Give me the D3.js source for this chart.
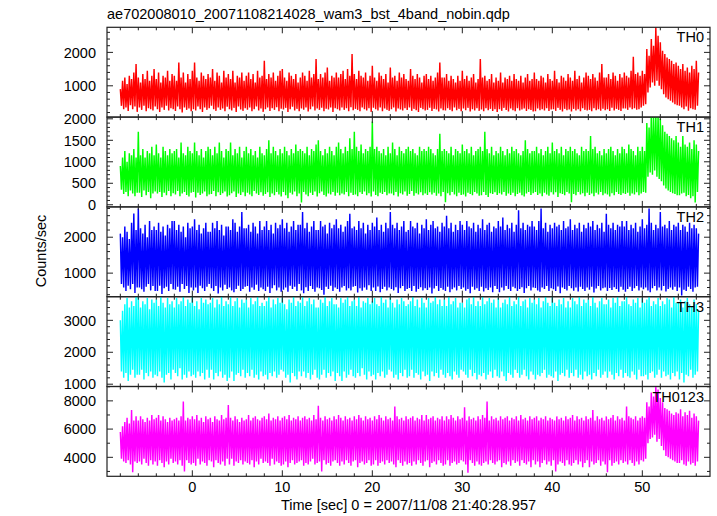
<!DOCTYPE html>
<html><head><meta charset="utf-8">
<script src="https://cdn.jsdelivr.net/npm/d3@7/dist/d3.min.js"></script>
<style>body{margin:0;background:#fff} svg{display:block} text{font-family:"Liberation Sans",Arial,Helvetica,sans-serif;fill:#000}</style>
</head><body><svg id="c" width="717" height="516"></svg>
<script>
const title = "ae702008010_20071108214028_wam3_bst_4band_nobin.qdp";
const xLabel = "Time [sec] 0 = 2007/11/08 21:40:28.957";
const yLabel = "Counts/sec";
const bands = ["TH0","TH1","TH2","TH3","TH0123"];
const colors = ["#ff0000","#00ff00","#0000ff","#00ffff","#ff00ff"];
const t0 = -8, dt = 0.125;

const th0 = [
900,400,1150,300,1250,350,1050,250,1300,420,1200,300,1400,380,1650,220,
1250,350,1100,280,1350,400,1200,240,1450,330,1150,300,1300,260,1500,380,
1200,300,1400,220,1100,350,1300,280,1250,400,1450,260,1150,330,1350,300,
1300,250,1150,380,1700,300,1250,200,1400,350,1100,280,1350,320,1200,240,
1450,300,1700,260,1250,380,1150,300,1400,220,1300,350,1200,280,1350,330,
1250,400,1500,300,1150,250,1400,350,1300,280,1100,320,1450,240,1250,370,
1350,300,1200,260,1450,340,1100,220,1300,380,1250,290,1400,250,1150,330,
1300,280,1400,350,1200,240,1350,300,1100,380,1450,260,1250,320,1300,220,
1750,300,1200,350,1350,250,1250,330,1400,280,1150,360,1300,240,1450,310,
1500,290,1250,340,1150,220,1400,300,1300,370,1200,260,1350,310,1100,240,
1250,320,1400,280,1300,350,1150,230,1450,300,1250,380,1350,260,1800,320,
1200,280,1350,340,1250,240,1400,310,1550,290,1150,350,1300,220,1250,330,
1400,300,1250,260,1350,350,1450,280,1200,330,1500,240,1300,360,1950,270,
1350,310,1200,280,1450,240,1300,350,1250,300,1400,260,1150,330,1300,220,
1600,340,1250,300,1150,260,1400,350,1300,240,1200,320,1350,280,1100,250,
1550,300,1250,350,1300,230,1150,320,1400,290,1250,260,1350,330,1200,280,
1150,350,1500,250,1300,310,1200,270,1350,220,1250,340,1100,300,1300,260,
1350,280,1200,340,1300,250,1150,310,1250,290,1400,230,1700,320,1250,270,
1250,260,1350,330,1150,280,1300,240,1200,350,1100,270,1300,310,1150,240,
1450,320,1200,270,1300,340,1150,230,1250,300,1350,260,1100,330,1200,250,
1800,290,1250,240,1300,330,1150,270,1200,310,1350,250,1100,300,1250,220,
1150,300,1400,250,1100,340,1250,280,1200,230,1300,320,1150,270,1350,240,
1200,330,1150,260,1300,290,1100,320,1250,250,1350,300,1150,280,1200,230,
1400,240,1200,320,1150,270,1300,300,1250,260,1100,330,1350,250,1200,290,
1150,300,1450,250,1200,340,1100,280,1300,230,1250,310,1150,270,1350,290,
1250,230,1150,310,1450,260,1200,300,1300,240,1100,330,1250,280,1400,260,
1300,280,1200,240,1350,330,1250,270,1150,300,1400,250,1650,310,1250,270,
1250,300,1350,250,1200,340,1400,260,1300,310,1150,280,1350,250,1250,320,
1400,320,1300,280,1250,350,1450,300,1870,330,1350,280,1400,300,1300,350,
1450,400,1350,450,2100,800,1900,950,2400,1100,2200,1000,2750,1150,2500,1000,
2300,900,2050,750,1950,650,1850,600,1800,550,1750,500,1650,450,1700,420,
1600,400,1500,350,1650,300,1450,380,1550,250,1400,330,1600,300,1500,280,
1750,400,1400];

const th1 = [
900,350,1100,250,1250,300,1000,200,1200,330,1150,260,1300,200,1100,280,
1700,280,1150,180,1300,330,1100,220,1250,300,1200,150,1350,260,1150,310,
1400,260,1200,300,1100,180,1350,280,1250,220,1150,320,1300,200,1200,270,
1250,240,1300,320,1100,200,1450,260,1200,300,1150,230,1350,190,1250,280,
1200,300,1450,170,1250,280,1150,230,1300,260,1100,310,1250,200,1350,240,
1300,250,1150,320,1350,200,1200,290,1450,230,1250,270,1100,310,1300,190,
1250,220,1450,270,1150,310,1300,180,1200,260,1350,230,1100,290,1250,200,
1350,280,1200,240,1300,200,1150,320,1250,260,1100,230,1350,290,1200,210,
1150,250,1300,290,1500,180,1200,260,1350,220,1250,300,1150,240,1300,190,
1200,300,1350,220,1250,150,1150,280,1300,240,1200,310,1400,200,1250,260,
1300,50,1250,300,1200,240,1350,200,1150,280,1300,230,1250,310,1400,190,
1500,270,1250,310,1150,230,1300,190,1200,260,1350,240,1250,300,1150,210,
1350,280,1450,220,1300,260,1200,240,1350,300,1250,200,1550,280,1300,230,
1700,240,1350,200,1250,290,1400,250,1200,310,1300,220,1250,270,1350,190,
1935,310,1300,230,1350,200,1250,280,1200,250,1300,300,1150,220,1350,260,
1200,260,1450,220,1300,300,1150,190,1350,270,1250,240,1200,310,1300,210,
1350,250,1250,320,1300,210,1200,270,1150,240,1350,290,1250,220,1300,260,
1250,230,1350,290,1300,240,1200,280,1150,210,1300,260,1650,200,1250,300,
1300,60,1250,270,1200,220,1350,300,1150,240,1300,200,1250,280,1200,230,
1400,240,1250,190,1300,280,1200,250,1350,220,1150,300,1250,260,1300,210,
1350,220,1250,300,1700,230,1300,180,1200,270,1350,250,1150,290,1250,230,
1200,270,1350,240,1250,300,1150,210,1300,260,1200,230,1350,280,1250,200,
1300,250,1200,280,1150,220,1250,190,1500,260,1300,300,1200,230,1250,270,
1250,300,1350,230,1200,260,1300,200,1150,280,1250,240,1350,210,1200,290,
1450,240,1250,290,1300,180,1200,270,1350,250,1150,220,1300,300,1250,260,
1350,60,1250,250,1300,220,1200,300,1150,240,1350,270,1250,200,1300,280,
1250,230,1600,260,1300,200,1350,280,1200,240,1250,300,1150,220,1300,260,
1200,240,1300,190,1350,270,1250,220,1150,300,1300,250,1200,230,1350,270,
1300,250,1200,280,1400,210,1300,260,1250,240,1150,290,1350,220,1250,260,
1350,300,1250,280,1900,650,1800,750,2100,700,2050,800,2100,650,2100,600,
2000,550,1850,450,1700,380,1650,330,1600,300,1550,270,1500,250,1600,220,
1450,220,1350,260,1600,280,1400,200,1350,230,1450,150,1300,200,1500,50,
1400,300,1250];

const th2 = [
2100,700,2000,600,2300,500,2150,650,1950,550,2400,700,2660,450,2200,600,
2800,600,2250,550,2100,480,2350,620,2000,700,2450,520,2200,640,2300,500,
2200,500,2400,650,2150,420,2300,580,2050,620,2350,500,2250,700,2450,550,
2450,540,2200,620,2350,480,2150,700,2300,560,2000,640,2400,450,2250,600,
2300,520,2500,600,2200,450,2350,650,2100,580,2250,500,2400,620,2150,700,
2150,580,2400,500,2250,640,2450,430,2200,600,2350,520,2050,680,2300,560,
2300,600,2200,520,2500,470,2400,560,2150,650,2300,500,2700,560,2250,620,
2250,640,2350,480,2150,600,2400,540,2300,680,2100,500,2450,600,2200,550,
2300,500,2450,620,2200,450,2350,580,2100,660,2400,520,2250,600,2350,480,
2500,540,2250,600,2400,480,2150,650,2300,560,2450,620,2200,500,2350,700,
2350,520,2700,440,2250,610,2400,500,2150,640,2300,560,2450,480,2200,600,
2200,580,2450,530,2300,400,2350,620,2100,560,2400,650,2250,500,2350,600,
2500,560,2250,480,2350,600,2150,640,2300,520,2450,580,2650,520,2250,620,
2300,640,2200,460,2450,580,2250,510,2400,600,2100,540,2350,660,2200,500,
2400,600,2300,500,2550,630,2200,470,2350,560,2150,620,2400,520,2250,600,
2700,560,2350,520,2250,610,2400,450,2200,580,2300,640,2450,500,2150,560,
2200,590,2450,500,2300,640,2250,480,2400,560,2100,610,2350,520,2250,580,
2500,530,2200,600,2350,430,2450,570,2250,640,2300,500,2150,590,2400,540,
2300,500,2600,620,2250,470,2400,550,2150,600,2350,520,2200,640,2450,560,
2350,600,2200,510,2450,560,2300,440,2250,620,2400,540,2150,580,2350,500,
2250,620,2500,490,2200,580,2350,530,2400,600,2150,470,2300,640,2250,560,
2450,470,2300,600,2550,520,2200,640,2350,560,2250,500,2400,620,2150,580,
2350,500,2750,560,2250,610,2400,450,2200,580,2350,640,2300,520,2450,600,
2300,590,2200,520,2450,480,2800,600,2250,560,2400,640,2150,500,2350,580,
2250,550,2400,500,2300,630,2350,440,2200,600,2450,560,2250,520,2300,640,
2500,580,2200,510,2350,600,2250,490,2400,620,2150,560,2350,500,2250,600,
2400,540,2300,620,2450,460,2200,570,2350,640,2250,520,2400,580,2150,600,
2650,500,2350,590,2250,530,2400,610,2200,560,2350,480,2300,620,2450,540,
2300,480,2450,560,2200,620,2350,500,2250,580,2400,640,2150,520,2300,600,
2500,550,2250,600,2350,520,2800,470,2400,580,2200,640,2350,520,2250,600,
2700,520,2300,640,2350,490,2250,560,2450,600,2200,540,2350,620,2300,500,
2400,600,2200,380,2350,540,2300,500,2150,620,2400,560,2250,480,2350,600,
2250,620,2100];

const th3 = [
3000,1400,3300,1200,3500,1350,3700,1100,3400,1300,3600,1450,3450,1200,3750,1300,
3750,1300,3400,1450,3600,1150,3500,1350,3700,1250,3350,1400,3650,1200,3550,1300,
3650,1250,3450,1400,3750,1200,3550,1050,3400,1300,3700,1350,3500,1150,3600,1450,
3400,1350,3700,1250,3500,1500,3600,1150,3750,1300,3450,1200,3650,1400,3550,1250,
3750,1300,3450,1200,3600,1400,3350,1250,3700,1350,3550,1150,3650,1450,3500,1200,
3550,1450,3700,1150,3400,1350,3650,1250,3500,1400,3750,1200,3450,1300,3600,1100,
3500,1200,3750,1400,3450,1100,3600,1300,3700,1350,3400,1250,3650,1450,3550,1200,
3650,1350,3400,1250,3700,1450,3500,1200,3600,1300,3750,1150,3450,1400,3550,1250,
3450,1300,3600,1150,3750,1350,3400,1250,3650,1400,3500,1200,3700,1300,3550,1450,
3700,1400,3500,1200,3350,1300,3650,1050,3550,1350,3750,1250,3450,1150,3600,1400,
3550,1250,3750,1400,3450,1200,3600,1350,3700,1150,3500,1300,3650,1450,3400,1200,
3400,1150,3650,1300,3550,1450,3750,1200,3450,1350,3600,1250,3700,1400,3500,1100,
3500,1350,3400,1250,3700,1100,3550,1400,3650,1200,3750,1300,3450,1450,3600,1250,
3650,1200,3450,1350,3750,1250,3400,1500,3600,1300,3550,1150,3700,1400,3500,1250,
3600,1300,3700,1150,3500,1350,3450,1250,3750,1400,3550,1200,3650,1300,3400,1450,
3750,1400,3550,1200,3400,1300,3650,1150,3500,1350,3700,1250,3600,1450,3450,1200,
3500,1250,3600,1450,3750,1200,3450,1350,3650,1300,3400,1150,3700,1400,3550,1250,
3400,1300,3700,1100,3550,1400,3600,1250,3750,1350,3500,1200,3650,1450,3450,1300,
3650,1200,3450,1350,3750,1250,3500,1150,3600,1400,3700,1300,3400,1200,3550,1450,
3550,1400,3400,1300,3650,1200,3700,1450,3500,1250,3750,1350,3450,1150,3600,1300,
3450,1250,3750,1350,3500,1150,3600,1300,3700,1400,3550,1200,3650,1450,3400,1250,
3700,1200,3400,1400,3550,1250,3650,1100,3500,1350,3750,1300,3450,1200,3600,1450,
3500,1350,3750,1200,3450,1300,3600,1450,3650,1250,3400,1150,3700,1400,3550,1300,
3650,1150,3500,1300,3700,1250,3400,1350,3600,1450,3750,1200,3550,1300,3450,1250,
3750,1200,3550,1400,3450,1100,3650,1300,3500,1350,3700,1250,3400,1450,3600,1200,
3400,1350,3700,1250,3600,1450,3500,1200,3750,1300,3450,1150,3650,1400,3550,1250,
3650,1300,3450,1150,3750,1350,3550,1250,3400,1450,3600,1200,3700,1300,3500,1400,
3500,1200,3650,1400,3400,1300,3700,1150,3550,1350,3750,1250,3450,1450,3600,1200,
3600,1350,3750,1250,3500,1200,3450,1400,3650,1300,3550,1150,3700,1450,3400,1250,
3700,1250,3550,1300,3650,1150,3750,1350,3450,1400,3600,1200,3500,1300,3700,1450,
3450,1200,3600,1400,3500,1250,3700,1300,3650,1150,3400,1350,3750,1250,3550,1400,
3550,1150,3650,1350,3400,1050,3600,1300,3700,1250,3500,1450,3450,1200,3650,1300,
3500,1400,3300];

const th0123 = [
5800,3900,6200,3700,6500,3600,6800,3800,6400,3500,7350,2950,6600,3700,6900,3600,
6600,3700,6900,3500,6700,3900,6500,3600,6800,3400,6600,3800,7000,3500,6700,3700,
6800,3400,7000,3800,6600,3600,6900,3300,6700,3700,6500,3500,6800,3900,6600,3600,
6700,3700,6800,3500,6600,3800,6900,3400,7950,3000,6600,3800,6800,3600,6700,3500,
6900,3600,6700,3400,7000,3900,6600,3500,6800,3700,6500,3600,6900,3400,6700,3800,
6800,3700,6500,3300,6900,3800,6700,3600,6600,3500,7000,3700,6700,3400,6800,3900,
7700,3500,6800,3900,6600,3400,6900,3700,6700,3600,6500,3800,6800,3500,6600,3700,
6700,3600,7000,3500,6600,3800,6800,3300,6900,3700,6700,3500,6600,3900,6800,3600,
6900,3700,6700,3600,7100,3400,6600,3900,6800,3500,6700,3700,6900,3600,6600,3400,
6800,3500,6900,3700,6700,3300,7000,3600,6600,3800,6800,3500,6700,3600,6900,3700,
6600,3800,6800,3400,6900,3600,6700,3500,6800,3700,6600,3900,7000,3500,6700,3600,
7650,3700,6800,3000,6600,3800,6900,3500,6700,3600,6800,3400,6600,3700,6900,3800,
6700,3600,7000,3400,6800,3700,6600,3500,6900,3800,6700,3600,6800,3400,6600,3700,
6900,3800,6700,3300,7000,3600,6800,3700,6600,3500,6900,3600,6700,3800,6800,3400,
6600,3500,6900,3800,6700,3400,7000,3600,6800,3700,6600,3500,6900,3800,6700,3600,
6800,3700,6600,3500,7600,3300,6900,3800,6700,3600,6800,3400,6600,3700,6900,3500,
6700,3600,6800,3400,6900,3700,6600,3500,6800,3800,6700,3600,7000,3400,6600,3700,
7000,3800,6700,3300,6800,3600,6900,3700,6600,3500,6800,3800,6700,3600,6900,3400,
6600,3500,6900,3800,6700,3400,7000,3600,6800,3700,6600,3500,6900,3600,6700,3800,
6800,3700,7550,3500,6600,2900,6900,3800,6700,3600,6800,3400,6600,3700,6900,3500,
6700,3400,7000,3600,6800,3700,7950,3500,6600,3800,6900,3600,6700,3500,6800,3700,
6600,3800,6900,3300,6700,3600,6800,3500,6900,3700,6600,3400,6800,3800,6700,3600,
6900,3700,6600,3400,7000,3800,6700,3600,6800,3500,6600,3700,6900,3300,6700,3800,
6800,3500,6900,3700,6600,3300,6800,3600,6700,3800,6900,3500,6600,3700,6800,3400,
6700,3800,6600,3000,6900,3500,6700,3700,6800,3600,6600,3400,6900,3800,6700,3500,
6800,3400,7000,3600,6600,3800,6900,3500,6700,3700,6800,3300,6600,3600,6900,3800,
6700,3300,6800,3700,7350,3500,6600,3600,6900,3800,6700,3400,6800,3700,6600,3500,
6900,2950,6700,3800,6800,3400,7000,3600,6600,3700,6900,3500,6700,3800,6800,3600,
6600,3700,7600,3500,6900,3800,6800,3600,6700,3400,6900,3700,6600,3500,6800,3800,
6900,3700,6800,3900,7900,5000,7600,5300,8600,5400,8300,5600,9100,5100,8800,5300,
8200,4800,7900,4500,7500,4100,7400,4000,7300,3900,7100,3800,7000,3700,7200,3600,
7100,3600,7400,3800,6900,3500,7200,3400,7000,3700,7300,3500,6800,3600,7100,3400,
6900,3700,6600];

const series = [th0, th1, th2, th3, th0123];
const yDomains = [[63,2751],[-50,2040],[344,2844],[928,3740],[2655,9018]];
const yMajor = [[1000,2000],[0,500,1000,1500,2000],[1000,2000],[1000,2000,3000],[4000,6000,8000]];
const yMinorStep = [200,100,200,200,1000];
const xMajor = [0,10,20,30,40,50];
const xDomain = [-9.48, 57.52];

const plotL = 107, plotR = 710, plotT = 27.3, panelH = 89.8;
const svg = d3.select("#c");
const x = d3.scaleLinear().domain(xDomain).range([plotL, plotR]);
const xMinor = d3.range(-8, 57, 2);

svg.append("text").attr("x", 107).attr("y", 19).attr("font-size", 14.5).text(title);

series.forEach((vals, k) => {
  const y0 = plotT + k * panelH, y1 = y0 + panelH;
  const y = d3.scaleLinear().domain(yDomains[k]).range([y1, y0]);
  const g = svg.append("g");
  const cid = "clip" + k;
  svg.append("clipPath").attr("id", cid).append("rect")
    .attr("x", plotL).attr("y", y0).attr("width", plotR - plotL).attr("height", panelH);
  const line = d3.line().x((d, i) => x(t0 + i * dt)).y(d => y(d));
  g.append("path").datum(vals).attr("clip-path", `url(#${cid})`)
    .attr("d", line).attr("fill", "none").attr("stroke", colors[k])
    .attr("stroke-width", 1.45).attr("stroke-linejoin", "miter");

  g.append("rect").attr("x", plotL).attr("y", y0).attr("width", plotR - plotL).attr("height", panelH)
    .attr("fill", "none").attr("stroke", "#222").attr("stroke-width", 1.2);

  const tk = g.append("g").attr("stroke", "#222").attr("stroke-width", 1);
  xMinor.forEach(v => {
    const len = (v % 10 === 0) ? 6 : 3;
    tk.append("line").attr("x1", x(v)).attr("x2", x(v)).attr("y1", y0).attr("y2", y0 + len);
    tk.append("line").attr("x1", x(v)).attr("x2", x(v)).attr("y1", y1).attr("y2", y1 - len);
  });
  const [a, b] = yDomains[k];
  const st = yMinorStep[k];
  d3.range(Math.ceil(a / st) * st, b, st).forEach(v => {
    const major = yMajor[k].includes(v);
    const len = major ? 6 : 3;
    tk.append("line").attr("x1", plotL).attr("x2", plotL + len).attr("y1", y(v)).attr("y2", y(v));
    tk.append("line").attr("x1", plotR).attr("x2", plotR - len).attr("y1", y(v)).attr("y2", y(v));
  });
  yMajor[k].forEach(v => {
    svg.append("text").attr("x", 96).attr("y", y(v)).attr("dy", "0.36em")
      .attr("text-anchor", "end").attr("font-size", 14.5).text(v);
  });
  svg.append("text").attr("x", 704).attr("y", y0 + 15).attr("text-anchor", "end")
    .attr("font-size", 14.5).text(bands[k]);

  if (k === series.length - 1) {
    xMajor.forEach(v => {
      svg.append("text").attr("x", x(v)).attr("y", y1 + 16).attr("text-anchor", "middle")
        .attr("font-size", 14.5).text(v);
    });
  }
});

svg.append("text").attr("x", (plotL + plotR) / 2).attr("y", 510).attr("text-anchor", "middle")
  .attr("font-size", 14.5).text(xLabel);
svg.append("text").attr("transform", `translate(46,251) rotate(-90)`).attr("text-anchor", "middle")
  .attr("font-size", 14.5).text(yLabel);
</script></body></html>
